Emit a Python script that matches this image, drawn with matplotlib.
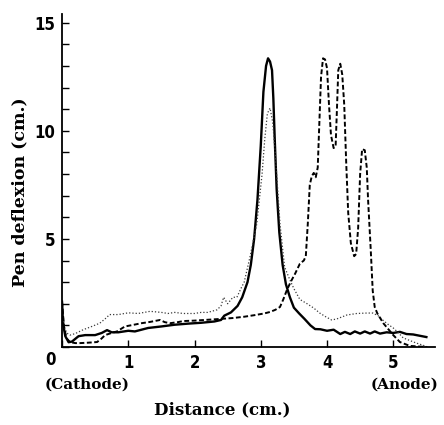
import matplotlib
matplotlib.use("Agg")
import matplotlib.pyplot as plt

# Solid curve
solid_x = [0.0, 0.02, 0.05, 0.1, 0.15, 0.25, 0.35, 0.5, 0.6, 0.68, 0.75, 0.85, 1.0, 1.1,
           1.3, 1.5, 1.7, 1.9, 2.1, 2.3, 2.4, 2.45, 2.55, 2.65, 2.72, 2.8, 2.85, 2.9, 2.95,
           3.0, 3.04, 3.08, 3.11, 3.14, 3.17, 3.19, 3.21, 3.24, 3.28, 3.33, 3.38, 3.44, 3.5,
           3.58, 3.66, 3.75, 3.82, 3.9, 4.0, 4.1, 4.2, 4.27, 4.35, 4.42, 4.5, 4.57, 4.65,
           4.72, 4.8, 4.9, 5.0, 5.1, 5.2, 5.3, 5.4, 5.5]
solid_y = [2.1, 1.0, 0.5, 0.22, 0.25, 0.5, 0.55, 0.55, 0.65, 0.78, 0.68, 0.68, 0.75, 0.72,
           0.88, 0.95, 1.03, 1.08, 1.12, 1.18, 1.25, 1.45, 1.6, 1.9, 2.3, 3.0, 3.8, 5.0, 6.8,
           9.3, 11.8, 13.0, 13.35, 13.2, 12.8, 11.5, 9.7, 7.3, 5.3, 3.8, 2.9, 2.3, 1.82,
           1.55, 1.3, 1.0, 0.83, 0.82, 0.75, 0.8, 0.6, 0.7, 0.6, 0.72, 0.62, 0.72, 0.62,
           0.72, 0.62, 0.68, 0.65, 0.7, 0.6, 0.58, 0.52, 0.46]

# Dotted curve
dot_x = [0.0, 0.03, 0.07, 0.12, 0.2, 0.32, 0.45, 0.57, 0.65, 0.72, 0.85, 1.0, 1.15, 1.33,
         1.5, 1.6, 1.7, 1.83, 2.0, 2.1, 2.2, 2.34, 2.4, 2.44, 2.5, 2.58, 2.64, 2.7, 2.75,
         2.84, 2.94, 3.02, 3.06, 3.1, 3.14, 3.18, 3.21, 3.24, 3.29, 3.36, 3.44, 3.5, 3.59,
         3.7, 3.8, 3.89, 3.98, 4.07, 4.15, 4.3, 4.45, 4.6, 4.69, 4.77, 4.84, 4.92, 5.0,
         5.08, 5.15, 5.25, 5.35, 5.45, 5.52]
dot_y = [2.1, 1.0, 0.65, 0.55, 0.62, 0.8, 0.95, 1.1, 1.3, 1.5, 1.5, 1.58, 1.55, 1.65,
         1.6, 1.55, 1.6, 1.55, 1.55, 1.6, 1.6, 1.72, 1.9, 2.3, 2.0, 2.3, 2.3, 2.7, 3.0,
         4.2, 5.7, 8.0, 9.6, 10.8, 11.05, 10.4, 9.3, 8.0, 5.7, 3.7, 3.1, 2.7, 2.2,
         2.0, 1.8, 1.57, 1.4, 1.25, 1.3, 1.48, 1.55, 1.57, 1.57, 1.45, 1.25, 1.05, 0.88,
         0.65, 0.42, 0.3, 0.18, 0.08, 0.0]

# Dashed curve
dash_x = [0.0, 0.03, 0.07, 0.12, 0.2, 0.27, 0.4, 0.53, 0.6, 0.65, 0.75, 0.83, 0.95, 1.07,
          1.2, 1.33, 1.48, 1.55, 1.63, 1.75, 1.83, 2.0, 2.2, 2.4, 2.58, 2.75, 2.9, 3.05,
          3.14, 3.22, 3.29, 3.34, 3.39, 3.45, 3.52, 3.59, 3.65, 3.68, 3.71, 3.74, 3.77,
          3.8, 3.83, 3.86, 3.88, 3.91, 3.94, 3.97, 4.0, 4.03, 4.06, 4.1, 4.13, 4.15, 4.17,
          4.2, 4.23, 4.26, 4.29, 4.32, 4.36, 4.41, 4.44, 4.47, 4.5, 4.53, 4.57, 4.6, 4.62,
          4.66, 4.69, 4.72, 4.76, 4.85, 5.0, 5.1, 5.25, 5.5]
dash_y = [2.1, 0.9, 0.4, 0.23, 0.18, 0.18, 0.2, 0.23, 0.4, 0.55, 0.65, 0.72, 0.95, 1.02,
          1.1, 1.16, 1.25, 1.15, 1.1, 1.15, 1.2, 1.22, 1.26, 1.3, 1.34, 1.4, 1.47, 1.55,
          1.62, 1.72, 1.85, 2.2, 2.6, 3.0, 3.4, 3.85, 4.0, 4.2, 5.7, 7.5, 7.9,
          8.05, 7.85, 8.3, 10.0, 12.5, 13.35, 13.3, 12.9, 11.2, 9.8, 9.2, 9.3, 11.0, 12.8,
          13.1, 12.6, 11.2, 8.5, 6.2, 4.8, 4.2, 4.3, 5.5, 8.0, 9.15, 9.1, 8.3, 6.8,
          4.5, 2.6, 1.85, 1.55, 1.1, 0.55, 0.23, 0.05, 0.0]

x_ticks = [0, 1, 2, 3, 4, 5]
x_ticklabels = ["", "1", "2", "3", "4", "5"]
y_major = [5, 10, 15]
y_minor = list(range(0, 16))

W, H = 444, 425
fig = plt.figure(figsize=(W / 100, H / 100), dpi=100)
ax = fig.add_axes([62 / W, (H - 347) / H, (435 - 62) / W, (347 - 14) / H])

ax.plot(solid_x, solid_y, color="black", lw=1.7, solid_joinstyle="round")
ax.plot(dot_x, dot_y, color="#3a3a3a", lw=0.9, linestyle=(0, (1, 1.6)))
ax.plot(dash_x, dash_y, color="black", lw=1.4, linestyle=(0, (2.5, 1.3)))

ax.set_xlim(0, 5.63)
ax.set_ylim(0, 15.4)
for s in ["top", "right"]:
    ax.spines[s].set_visible(False)
for s in ["left", "bottom"]:
    ax.spines[s].set_linewidth(1.3)

num_font = dict(family="DejaVu Sans", stretch="condensed", weight="bold", size=12)
ax.set_xticks(x_ticks)
ax.set_xticklabels(x_ticklabels, fontdict=num_font)
ax.set_yticks(y_major)
ax.set_yticklabels([str(v) for v in y_major], fontdict=num_font)
ax.set_yticks(y_minor, minor=True)
ax.tick_params(axis="both", which="both", direction="in", length=5, width=1.0)
ax.tick_params(axis="x", pad=5)
ax.tick_params(axis="y", pad=5)

ax.annotate("0", xy=(0, 0), xycoords="data", xytext=(-12, -13), textcoords="offset pixels",
            ha="center", va="center", **num_font)

lab_font = dict(family="DejaVu Serif", weight="bold", size=11)
fig.text(45 / W, 1 - 385 / H, "(Cathode)", ha="left", va="center", **lab_font)
fig.text(438 / W, 1 - 385 / H, "(Anode)", ha="right", va="center", **lab_font)
fig.text(222 / W, 1 - 410 / H, "Distance (cm.)", ha="center", va="center",
         family="DejaVu Serif", weight="bold", size=12)
fig.text(20 / W, 1 - 192 / H, "Pen deflexion (cm.)", ha="center", va="center",
         rotation=90, family="DejaVu Serif", weight="bold", size=12.5)

fig.savefig("out.png", dpi=100)
